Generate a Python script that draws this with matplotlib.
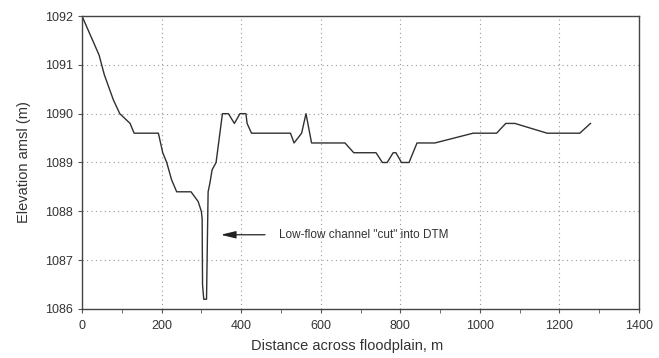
import matplotlib.pyplot as plt
from matplotlib.ticker import MultipleLocator

# Profil en travers de la plaine d'inondation
distance = [0, 43, 56, 79, 95, 121, 131, 192, 203, 213, 225, 238, 274, 292, 300,
            302, 303, 306, 313, 315, 317, 322, 327, 337, 353, 368, 383, 397, 412,
            415, 426, 524, 533, 552, 563, 577, 661, 683, 739, 755, 767, 782, 789,
            803, 822, 842, 887, 983, 1042, 1065, 1088, 1169, 1251, 1278]
elevation = [1092.0, 1091.2, 1090.8, 1090.28, 1090.0, 1089.8, 1089.6, 1089.6, 1089.2,
             1089.0, 1088.65, 1088.4, 1088.4, 1088.2, 1088.0,
             1087.85, 1086.5, 1086.2, 1086.2, 1087.3, 1088.4, 1088.6, 1088.85, 1089.0,
             1090.0, 1090.0, 1089.8, 1090.0, 1090.0,
             1089.8, 1089.6, 1089.6, 1089.4, 1089.6, 1090.0, 1089.4, 1089.4, 1089.2,
             1089.2, 1089.0, 1089.0, 1089.2, 1089.2,
             1089.0, 1089.0, 1089.4, 1089.4, 1089.6, 1089.6, 1089.8, 1089.8, 1089.6,
             1089.6, 1089.8]

annot_text = 'Low-flow channel "cut" into DTM'
annot_tip = (349, 1087.52)
annot_tail = (460, 1087.52)

font = ["Liberation Sans", "DejaVu Sans"]

fig = plt.figure(figsize=(6.59, 3.58), dpi=100)
ax = fig.add_axes([0.1244, 0.1369, 0.8453, 0.8184])

ax.plot(distance, elevation, color="#303030", linewidth=1.0)

ax.annotate("", xy=annot_tip, xytext=annot_tail,
            arrowprops=dict(arrowstyle="-|>,head_length=0.9,head_width=0.22",
                            color="#222222", lw=0.9, shrinkA=0, shrinkB=0))
ax.text(495, annot_tip[1], annot_text, fontsize=8.5, color="#333333",
        va="center", ha="left", family=font)

ax.set_xlim(0, 1400)
ax.set_ylim(1086, 1092)
ax.xaxis.set_major_locator(MultipleLocator(200))
ax.xaxis.set_minor_locator(MultipleLocator(100))
ax.yaxis.set_major_locator(MultipleLocator(1))

ax.grid(True, which="major", linestyle=(0, (1, 3)), color="#999999", linewidth=0.8)
ax.tick_params(which="both", direction="out", length=3, color="#555555",
               labelsize=9, labelcolor="#333333")
ax.tick_params(axis="x", pad=5)
for lab in ax.get_xticklabels() + ax.get_yticklabels():
    lab.set_family(font)

for s in ax.spines.values():
    s.set_color("#444444")
    s.set_linewidth(1.0)

ax.set_xlabel("Distance across floodplain, m", fontsize=10.5, color="#333333",
              family=font, labelpad=5)
ax.xaxis.label.set_x(0.476)
ax.set_ylabel("Elevation amsl (m)", fontsize=10.5, color="#333333",
              family=font, labelpad=10)

fig.savefig("out.png", dpi=100)
